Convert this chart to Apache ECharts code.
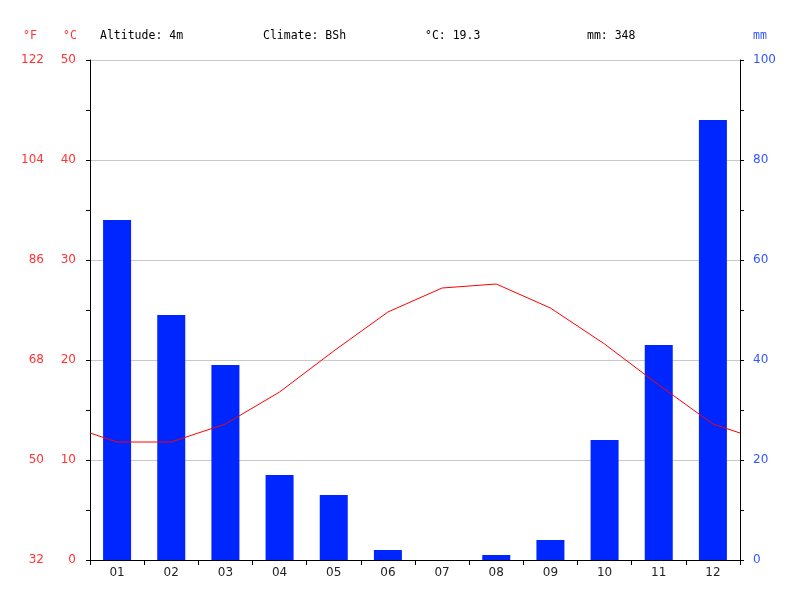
<!DOCTYPE html>
<html>
<head>
<meta charset="utf-8">
<script src="https://cdn.jsdelivr.net/npm/echarts@6/dist/echarts.min.js"></script>
<style>html,body{margin:0;padding:0;background:#fff}#c{width:800px;height:600px}</style>
</head>
<body>
<div id="c"></div>
<script>
const months = ['01','02','03','04','05','06','07','08','09','10','11','12'];
const precipMm = [68, 49, 39, 17, 13, 2, 0, 1, 4, 24, 43, 88];
const tempC = [11.8, 11.8, 13.6, 16.8, 20.9, 24.8, 27.2, 27.6, 25.2, 21.6, 17.5, 13.6];
const headerTexts = ['Altitude: 4m', 'Climate: BSh', '°C: 19.3', 'mm: 348'];

// wrap-around line: edges are midpoints between Dec and Jan, as the original does
const edge = (tempC[0] + tempC[11]) / 2;
const linePts = [[0.5, edge]].concat(tempC.map((v, i) => [i + 1, v])).concat([[12.5, edge]]);

const mono = 'DejaVu Sans Mono';
const sans = 'DejaVu Sans';
const red = '#ff3333';
const blue = '#3355ff';

const chart = echarts.init(document.getElementById('c'));
const headerX = [100, 263, 425, 587];
chart.setOption({
  animation: false,
  backgroundColor: '#fff',
  grid: { left: 90, right: 60, top: 60, bottom: 40 },
  graphic: headerTexts.map((t, i) => ({
    type: 'text', x: headerX[i], y: 36,
    style: { text: t, fill: '#000', font: '11.5px ' + mono, verticalAlign: 'middle' }
  })).concat([
    { type: 'text', x: 30, y: 36, style: { text: '°F', fill: red, font: '11.5px ' + mono, align: 'center', verticalAlign: 'middle' } },
    { type: 'text', x: 70, y: 36, style: { text: '°C', fill: red, font: '11.5px ' + mono, align: 'center', verticalAlign: 'middle' } },
    { type: 'text', x: 760, y: 36, style: { text: 'mm', fill: blue, font: '11.5px ' + mono, align: 'center', verticalAlign: 'middle' } }
  ]),
  xAxis: [
    {
      type: 'category', data: months, boundaryGap: true,
      axisLine: { lineStyle: { color: '#000', width: 1 } },
      axisTick: { show: true, length: 5, alignWithLabel: false, lineStyle: { color: '#000' } },
      axisLabel: { color: '#222', fontFamily: sans, fontSize: 12, margin: 7 },
      splitLine: { show: false }
    },
    {
      type: 'value', min: 0.5, max: 12.5, show: false
    }
  ],
  yAxis: [
    {
      type: 'value', min: 0, max: 50, interval: 10, position: 'left',
      axisLine: { show: true, lineStyle: { color: '#000' } },
      axisTick: { show: true, length: 4, lineStyle: { color: '#000' } },
      minorTick: { show: true, splitNumber: 2, length: 4, lineStyle: { color: '#000' } },
      axisLabel: { color: red, fontFamily: sans, fontSize: 12, margin: 14, padding: [3, 0, 0, 0] },
      splitLine: { show: true, lineStyle: { color: '#c8c8c8', width: 1 } }
    },
    {
      type: 'value', min: 32, max: 122, interval: 18, position: 'left', offset: 46,
      axisLine: { show: false }, axisTick: { show: false },
      axisLabel: { color: red, fontFamily: sans, fontSize: 12, margin: 0, padding: [3, 0, 0, 0] },
      splitLine: { show: false }
    },
    {
      type: 'value', min: 0, max: 100, interval: 20, position: 'right',
      axisLine: { show: true, lineStyle: { color: '#000' } },
      axisTick: { show: true, length: 4, lineStyle: { color: '#000' } },
      minorTick: { show: true, splitNumber: 2, length: 4, lineStyle: { color: '#000' } },
      axisLabel: { color: blue, fontFamily: sans, fontSize: 12, margin: 13, padding: [3, 0, 0, 0] },
      splitLine: { show: false }
    }
  ],
  series: [
    {
      type: 'bar', xAxisIndex: 0, yAxisIndex: 2, data: precipMm, barWidth: 28,
      itemStyle: { color: '#0026ff' }, z: 2
    },
    {
      type: 'line', xAxisIndex: 1, yAxisIndex: 0, data: linePts,
      showSymbol: false, symbol: 'none', lineStyle: { color: '#ff0000', width: 1 }, z: 3
    }
  ]
});
</script>
</body>
</html>
